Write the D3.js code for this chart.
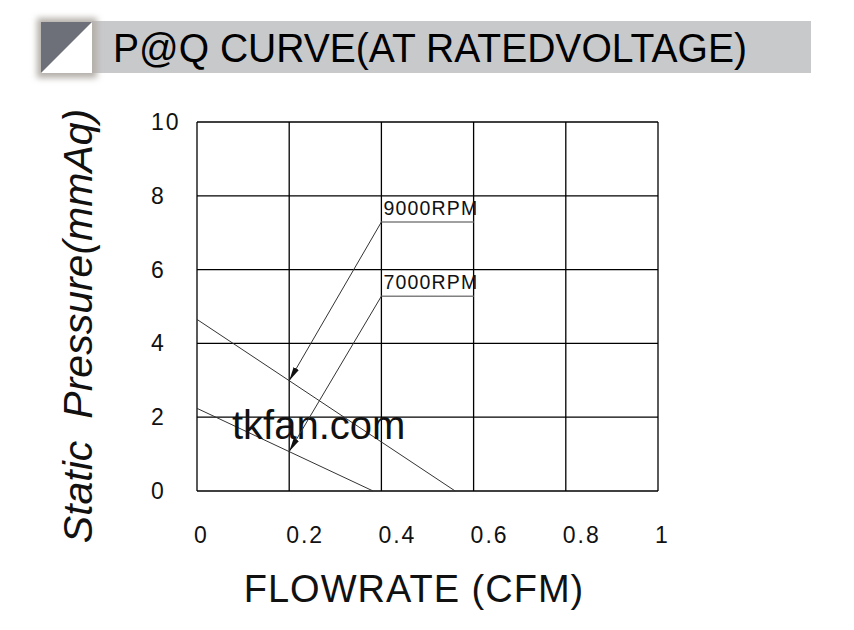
<!DOCTYPE html>
<html>
<head>
<meta charset="utf-8">
<script src="https://cdn.jsdelivr.net/npm/d3@7"></script>
<style>
  html, body { margin: 0; padding: 0; background: #ffffff; }
  svg { display: block; }
  text { font-family: "Liberation Sans", Arial, sans-serif; }
</style>
</head>
<body>
<svg id="chart" width="854" height="630"></svg>
<script>
// ---- data ----
const titleText = "P@Q CURVE(AT RATEDVOLTAGE)";
const xTitle = "FLOWRATE (CFM)";
const yTitleA = "Static";
const yTitleB = "Pressure(mmAq)";
const watermark = "tkfan.com";
const flowTicks = [0, 0.2, 0.4, 0.6, 0.8, 1];
const flowTickLabels = ["0", "0.2", "0.4", "0.6", "0.8", "1"];
const pressureTicks = [0, 2, 4, 6, 8, 10];
const pressureTickLabels = ["0", "2", "4", "6", "8", "10"];
const seriesNames = ["9000RPM", "7000RPM"];
const flow9000 = [0, 0.56];
const pressure9000 = [4.65, 0];
const flow7000 = [0, 0.382];
const pressure7000 = [2.24, 0];
// annotation: label anchor (flow, pressure) and arrow target flow
const labelFlow = [0.4, 0.4];
const labelPressure = [7.29, 5.28];
const arrowFlow = [0.2, 0.2];

// ---- layout ----
const svg = d3.select("#chart");
const x = d3.scaleLinear().domain([0, 1]).range([197, 658]);
const y = d3.scaleLinear().domain([0, 10]).range([491, 122]);

// defs
const defs = svg.append("defs");
const blur = defs.append("filter").attr("id", "shadow")
  .attr("x", "-50%").attr("y", "-50%").attr("width", "200%").attr("height", "200%");
blur.append("feGaussianBlur").attr("stdDeviation", 3);
defs.append("marker").attr("id", "arrow")
  .attr("viewBox", "0 0 14 6").attr("refX", 14).attr("refY", 3)
  .attr("markerWidth", 14).attr("markerHeight", 6)
  .attr("markerUnits", "userSpaceOnUse").attr("orient", "auto")
  .append("path").attr("d", "M0,0 L14,3 L0,6 Z").attr("fill", "#111");

// ---- title bar ----
svg.append("rect").attr("x", 92).attr("y", 21).attr("width", 719).attr("height", 52)
  .attr("fill", "#c8c9cb");
svg.append("rect").attr("x", 37).attr("y", 18).attr("width", 60).attr("height", 60)
  .attr("fill", "#b4afa9").attr("filter", "url(#shadow)");
svg.append("rect").attr("x", 41).attr("y", 22).attr("width", 51).attr("height", 51)
  .attr("fill", "#ffffff");
svg.append("path").attr("d", "M41,22 L92,22 L41,73 Z").attr("fill", "#6e7079");
svg.append("text").attr("x", 113).attr("y", 62)
  .attr("font-size", 41).attr("fill", "#000")
  .attr("textLength", 634).attr("lengthAdjust", "spacingAndGlyphs")
  .text(titleText);

// ---- grid ----
const g = svg.append("g");
g.selectAll("line.vx").data(flowTicks).join("line")
  .attr("x1", d => x(d)).attr("x2", d => x(d))
  .attr("y1", y(0)).attr("y2", y(10))
  .attr("stroke", "#000").attr("stroke-width", 1.3);
g.selectAll("line.hy").data(pressureTicks).join("line")
  .attr("x1", x(0)).attr("x2", x(1))
  .attr("y1", d => y(d)).attr("y2", d => y(d))
  .attr("stroke", "#000").attr("stroke-width", 1.3);

// tick labels
svg.append("g").selectAll("text").data(flowTicks).join("text")
  .attr("x", d => x(d) - 3).attr("y", 543)
  .attr("font-size", 23).attr("letter-spacing", 2).attr("fill", "#111")
  .text((d, i) => flowTickLabels[i]);
svg.append("g").selectAll("text").data(pressureTicks).join("text")
  .attr("x", 151).attr("y", d => y(d) + 8)
  .attr("font-size", 23).attr("letter-spacing", 2).attr("fill", "#111")
  .text((d, i) => pressureTickLabels[i]);

// axis titles
svg.append("text").attr("x", 414).attr("y", 602).attr("text-anchor", "middle")
  .attr("font-size", 38).attr("letter-spacing", 1).attr("fill", "#111")
  .text(xTitle);
const yt = svg.append("text").attr("transform", "translate(92,326) rotate(-90)")
  .attr("text-anchor", "middle").attr("font-size", 41).attr("font-style", "italic")
  .attr("fill", "#111");
yt.append("tspan").text(yTitleA);
yt.append("tspan").attr("dx", 22).text(yTitleB);

// ---- curves ----
const line = d3.line().x(d => x(d[0])).y(d => y(d[1]));
const curves = [
  d3.zip(flow9000, pressure9000),
  d3.zip(flow7000, pressure7000)
];
svg.append("g").selectAll("path").data(curves).join("path")
  .attr("d", line).attr("fill", "none")
  .attr("stroke", "#333").attr("stroke-width", 1);

// ---- watermark ----
svg.append("text").attr("x", 232).attr("y", 439)
  .attr("font-size", 40).attr("fill", "#111").text(watermark);

// ---- annotations ----
const interp = (pts, f) => {
  const t = (f - pts[0][0]) / (pts[1][0] - pts[0][0]);
  return pts[0][1] + t * (pts[1][1] - pts[0][1]);
};
seriesNames.forEach((name, i) => {
  const lx = x(labelFlow[i]), ly = y(labelPressure[i]);
  svg.append("line").attr("x1", lx).attr("x2", x(labelFlow[i] + 0.2))
    .attr("y1", ly).attr("y2", ly)
    .attr("stroke", "#808080").attr("stroke-width", 1.5);
  svg.append("line").attr("x1", lx).attr("y1", ly)
    .attr("x2", x(arrowFlow[i])).attr("y2", y(interp(curves[i], arrowFlow[i])))
    .attr("stroke", "#333").attr("stroke-width", 1)
    .attr("marker-end", "url(#arrow)");
  svg.append("text").attr("x", lx + 2).attr("y", ly - 7)
    .attr("font-size", 19.5).attr("letter-spacing", 1.2).attr("fill", "#111")
    .text(name);
});
</script>
</body>
</html>
